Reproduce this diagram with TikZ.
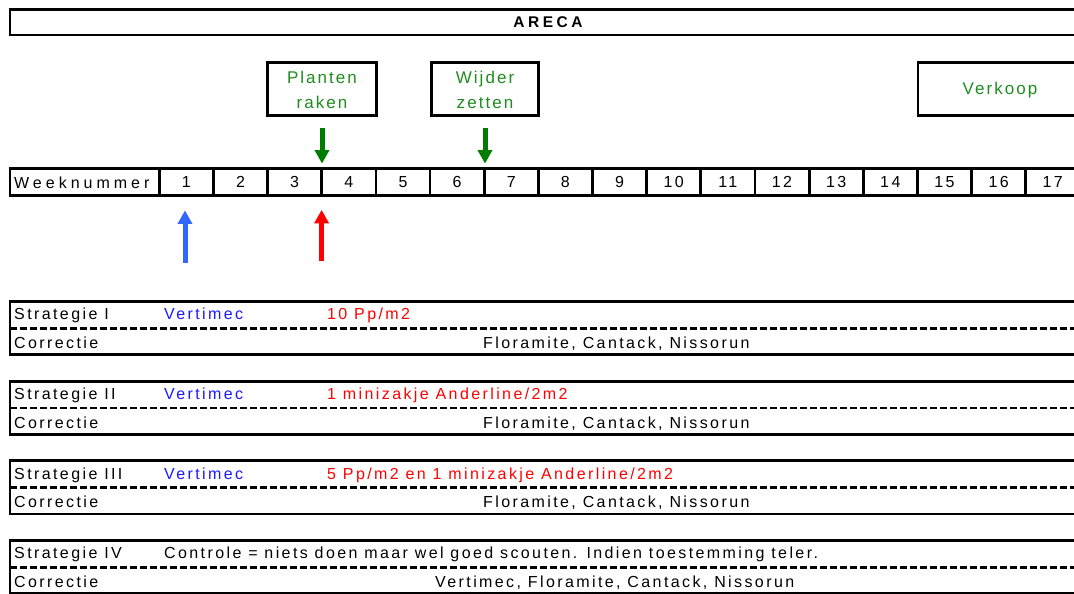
\documentclass[tikz,border=0pt]{standalone}
\usepackage{fontspec}
\setmainfont{Liberation Sans}[LetterSpace=15]
\newfontfamily\boxface{Liberation Sans}[LetterSpace=12]
\newfontfamily\titleface{Liberation Sans Bold}[LetterSpace=23]
\newfontfamily\headface{Liberation Sans}[LetterSpace=25]
\usetikzlibrary{arrows.meta,calc}

\definecolor{evgreen}{RGB}{30,140,30}
\definecolor{arrgreen}{RGB}{0,125,0}
\definecolor{arrblue}{RGB}{51,102,255}
\definecolor{txtblue}{RGB}{25,25,255}
\definecolor{txtred}{RGB}{255,0,0}

\begin{document}
\begin{tikzpicture}[x=1pt,y=-1pt,
  frame/.style={draw=black,line width=2.8pt},
  divider/.style={draw=black,line width=2.8pt,dash pattern=on 6.5pt off 3.5pt},
  txt/.style={inner sep=0pt,anchor=base west,font=\fontsize{16}{19}\selectfont},
  cell/.style={frame,inner sep=0pt,minimum height=27pt,font=\fontsize{16}{19}\selectfont},
  event/.style={frame,inner sep=0pt,minimum height=53pt},
  evtext/.style={inner sep=0pt,anchor=base,text=evgreen,font=\boxface\fontsize{17}{20}\selectfont},
  pointer/.style={line width=5pt,-{Triangle[length=13.5pt,width=14pt]}},
]
\useasboundingbox (0,0) rectangle (1074,594);

% title bar
\draw[frame] (10,9.5) rectangle (1095,35);
\node[inner sep=0pt,anchor=base,font=\titleface\fontsize{15.5}{18}\selectfont] (title) at (548,28) {ARECA};

% events above the week row
\node[event,minimum width=109pt] (plant) at (322,89) {};
\node[evtext] (plantA) at (322,83.3) {Planten};
\node[evtext] (plantB) at (322,109) {raken};
\node[event,minimum width=107pt] (wijd) at (485,89) {};
\node[evtext] (wijdA) at (485,83.3) {Wijder};
\node[evtext] (wijdB) at (485,109) {zetten};
\node[event,minimum width=200pt] (verk) at (1018,89) {};
\node[evtext] (verkA) at (1000,94.3) {Verkoop};

% week row
\node[cell,minimum width=149.3pt] (wk) at (84.65,182) {};
\node[txt,font=\headface\fontsize{16}{19}\selectfont] (wklabel) at (14,188) {Weeknummer};
\foreach \i in {1,...,17}
  \node[cell,minimum width=54.15pt] (w\i) at ({159.3+54.15*(\i-0.5)},182) {\i};

% event arrows (down) and treatment arrows (up)
\draw[pointer,arrgreen] ($(plant.south)+(0,11.5)$) -- ($(plant.south |- w3.north)+(0,-3.5)$);
\draw[pointer,arrgreen] ($(wijd.south)+(0,11.5)$) -- ($(wijd.south |- w6.north)+(0,-3.5)$);
\coordinate (bluetail) at (185,262.7);
\coordinate (redtail) at (321.6,260.7);
\draw[pointer,arrblue] (bluetail) -- ($(bluetail |- w1.south)+(0,13.5)$);
\draw[pointer,txtred] (redtail) -- ($(redtail |- w3.south)+(0,13)$);

% strategy blocks
\foreach \t [count=\k] in {301.5,381.2,460.8,540.5}{
  \draw[frame] (10,\t) rectangle (1095,\t+53.2);
  \draw[divider] (10,\t+26.7) -- (1095,\t+26.7);
  \node[txt] (corr\k) at (14,\t+47) {Correctie};
}
\node[txt] (s1) at (14,319.8) {Strategie I};
\node[txt,text=txtblue] (s1a) at (164,319.8) {Vertimec};
\node[txt,text=txtred] (s1b) at (327,319.8) {10 Pp/m2};
\node[txt] (c1) at (483,348.5) {Floramite, Cantack, Nissorun};

\node[txt] (s2) at (14,399.5) {Strategie II};
\node[txt,text=txtblue] (s2a) at (164,399.5) {Vertimec};
\node[txt,text=txtred] (s2b) at (327,399.5) {1 minizakje Anderline/2m2};
\node[txt] (c2) at (483,428.2) {Floramite, Cantack, Nissorun};

\node[txt] (s3) at (14,479.1) {Strategie III};
\node[txt,text=txtblue] (s3a) at (164,479.1) {Vertimec};
\node[txt,text=txtred] (s3b) at (327,479.1) {5 Pp/m2 en 1 minizakje Anderline/2m2};
\node[txt] (c3) at (483,507.8) {Floramite, Cantack, Nissorun};

\node[txt] (s4) at (14,558.8) {Strategie IV};
\node[txt] (s4a) at (164,558.8) {Controle = niets doen maar wel goed scouten. Indien toestemming teler.};
\node[txt] (c4) at (435,587.5) {Vertimec, Floramite, Cantack, Nissorun};
\end{tikzpicture}
\end{document}
